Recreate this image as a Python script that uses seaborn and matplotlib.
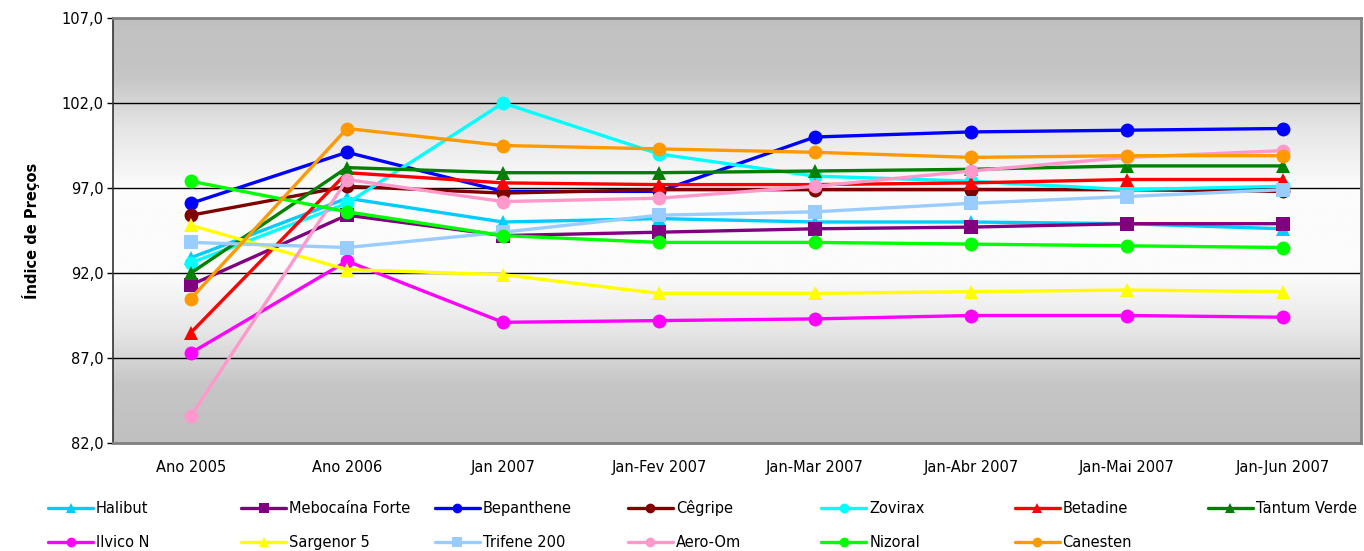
import numpy as np
import pandas as pd
import seaborn as sns
import matplotlib.pyplot as plt
from matplotlib.lines import Line2D
from matplotlib.colors import LinearSegmentedColormap

periodos = ["Ano 2005", "Ano 2006", "Jan 2007", "Jan-Fev 2007", "Jan-Mar 2007",
            "Jan-Abr 2007", "Jan-Mai 2007", "Jan-Jun 2007"]

halibut = [92.9, 96.4, 95.0, 95.2, 95.0, 95.0, 94.9, 94.6]
mebocaina = [91.3, 95.4, 94.2, 94.4, 94.6, 94.7, 94.9, 94.9]
bepanthene = [96.1, 99.1, 96.8, 96.8, 100.0, 100.3, 100.4, 100.5]
cegripe = [95.4, 97.1, 96.7, 96.9, 96.9, 96.9, 96.9, 96.8]
zovirax = [92.6, 96.1, 102.0, 99.0, 97.7, 97.4, 96.9, 97.1]
betadine = [88.5, 97.9, 97.3, 97.2, 97.2, 97.3, 97.5, 97.5]
tantum_verde = [92.0, 98.2, 97.9, 97.9, 98.0, 98.1, 98.3, 98.3]
ilvico = [87.3, 92.7, 89.1, 89.2, 89.3, 89.5, 89.5, 89.4]
sargenor = [94.8, 92.2, 91.9, 90.8, 90.8, 90.9, 91.0, 90.9]
trifene = [93.8, 93.5, 94.4, 95.4, 95.6, 96.1, 96.5, 96.9]
aero_om = [83.6, 97.5, 96.2, 96.4, 97.1, 98.0, 98.8, 99.2]
nizoral = [97.4, 95.6, 94.2, 93.8, 93.8, 93.7, 93.6, 93.5]
canesten = [90.5, 100.5, 99.5, 99.3, 99.1, 98.8, 98.9, 98.9]

produtos = ["Halibut", "Mebocaína Forte", "Bepanthene", "Cêgripe", "Zovirax",
            "Betadine", "Tantum Verde", "Ilvico N", "Sargenor 5", "Trifene 200",
            "Aero-Om", "Nizoral", "Canesten"]
valores = [halibut, mebocaina, bepanthene, cegripe, zovirax, betadine,
           tantum_verde, ilvico, sargenor, trifene, aero_om, nizoral, canesten]
cores = ["#00CCFF", "#800080", "#0000FF", "#800000", "#00FFFF", "#FF0000",
         "#008000", "#FF00FF", "#FFFF00", "#99CCFF", "#FF99CC", "#00FF00",
         "#FF9900"]
marcadores = ["^", "s", "o", "o", "o", "^", "^", "o", "^", "s", "o", "o", "o"]

y_ticks = [82, 87, 92, 97, 102, 107]
y_labels = ["82,0", "87,0", "92,0", "97,0", "102,0", "107,0"]

rows = []
for nome, vals in zip(produtos, valores):
    for i, v in enumerate(vals):
        rows.append({"produto": nome, "x": i, "valor": v})
df = pd.DataFrame(rows)

sns.set_style("white")
plt.rcParams["font.family"] = ["DejaVu Sans"]
plt.rcParams["text.color"] = "black"
plt.rcParams["xtick.color"] = "black"
plt.rcParams["ytick.color"] = "black"
plt.rcParams["axes.labelcolor"] = "black"

W, H = 1364, 551
fig = plt.figure(figsize=(W / 100, H / 100), dpi=100)
ax = fig.add_axes([113 / W, 1 - 443 / H, 1248 / W, 425 / H])

# fundo em degradê (cinza - branco - cinza)
grad = LinearSegmentedColormap.from_list(
    "bg", [(0, "#C0C0C0"), (0.14, "#C6C6C6"), (0.26, "#E6E6E6"),
           (0.4, "#FCFCFC"), (0.6, "#FCFCFC"), (0.74, "#E6E6E6"),
           (0.86, "#C6C6C6"), (1, "#C0C0C0")])
ax.imshow(np.linspace(0, 1, 512).reshape(-1, 1), cmap=grad, aspect="auto",
          extent=(-0.5, 7.5, 82, 107), origin="upper", zorder=0,
          interpolation="bilinear")

for yt in y_ticks[1:-1]:
    ax.axhline(yt, color="black", lw=1, zorder=1)

sns.lineplot(data=df, x="x", y="valor", hue="produto", style="produto",
             hue_order=produtos, style_order=produtos,
             palette=dict(zip(produtos, cores)),
             markers=dict(zip(produtos, marcadores)), dashes=False,
             linewidth=2.4, markersize=10, markeredgewidth=0,
             legend=False, ax=ax, zorder=3)

ax.set_xlim(-0.5, 7.5)
ax.set_ylim(82, 107)
ax.set_xticks(range(len(periodos)))
ax.set_xticklabels(periodos, fontsize=10.5)
ax.set_yticks(y_ticks)
ax.set_yticklabels(y_labels, fontsize=10.5)
ax.tick_params(axis="x", length=0, pad=12)
ax.tick_params(axis="y", length=4, width=1, direction="out", pad=3, left=True)
ax.set_xlabel("")
ax.set_ylabel("Índice de Preços", fontsize=10.5, fontweight="bold", labelpad=15)

for side in ["top", "right", "bottom"]:
    ax.spines[side].set_color("#808080")
    ax.spines[side].set_linewidth(2)
ax.spines["left"].set_color("#333333")
ax.spines["left"].set_linewidth(1.2)

# legenda em grelha fixa: 7 colunas x 2 linhas
for i, (nome, c, m) in enumerate(zip(produtos, cores, marcadores)):
    col, lin = i % 7, i // 7
    x0 = 48 + 193.3 * col
    yc = 508 + 34 * lin
    fy = 1 - yc / H
    fig.add_artist(Line2D([x0 / W, (x0 + 45) / W], [fy, fy], color=c, lw=2.4,
                          transform=fig.transFigure))
    fig.add_artist(Line2D([(x0 + 22.5) / W], [fy], color=c, marker=m,
                          markersize=7, markeredgewidth=0, lw=0,
                          transform=fig.transFigure))
    fig.text((x0 + 48) / W, 1 - (yc + 5.3) / H, nome, fontsize=10.5,
             va="baseline", ha="left")

fig.savefig("out.png", dpi=100)
